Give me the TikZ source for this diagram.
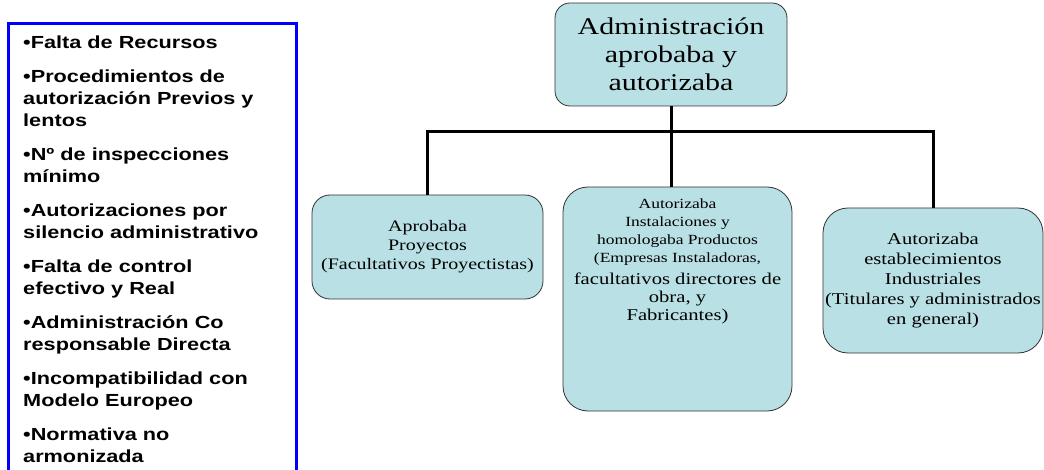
\documentclass[tikz,border=0pt]{standalone}
\usepackage{fontspec}
\setmainfont{Liberation Serif}[FakeStretch=1.25]
\newfontfamily\widesans{Liberation Sans}[FakeStretch=1.24]
\usetikzlibrary{positioning}

\definecolor{paleteal}{RGB}{185,224,228}
\newcommand{\bigline}{\fontsize{16.5}{19}\selectfont}

\begin{document}
\begin{tikzpicture}[
  x=1pt, y=-1pt,
  orgbox/.style={draw=black!80, line width=0.8pt, fill=paleteal, align=center, inner sep=2pt},
  causes/.style={align=left, inner sep=0pt, font=\widesans\bfseries\fontsize{17.5}{22}\selectfont},
  frame/.style={draw=blue, line width=3pt},
  link/.style={draw=black, line width=3pt}
]
\useasboundingbox (0,0) rectangle (1044,470);
\clip (0,0) rectangle (1044,470);

% list of problems
\draw[frame] (8,24) rectangle (296,500);
\node[causes, anchor=north west] (causas) at (23,36)
  {•Falta de Recursos\\[12pt]
   •Procedimientos de\\ autorización Previos y\\ lentos\\[12pt]
   •Nº de inspecciones\\ mínimo\\[12pt]
   •Autorizaciones por\\ silencio administrativo\\[12pt]
   •Falta de control\\ efectivo y Real\\[12pt]
   •Administración Co\\ responsable Directa\\[12pt]
   •Incompatibilidad con\\ Modelo Europeo\\[12pt]
   •Normativa no\\ armonizada};

% organisation chart
\node[orgbox, rounded corners=15pt, minimum width=232pt, minimum height=103pt,
  font=\fontsize{24}{28}\selectfont] (admin) at (671,54.5)
  {Administración\\ aprobaba y\\ autorizaba};

\node[orgbox, rounded corners=18pt, minimum width=231pt, minimum height=104pt,
  font=\fontsize{16}{19}\selectfont] (proy) at (427.5,247)
  {Aprobaba\\ Proyectos\\ (Facultativos Proyectistas)};

\node[orgbox, rounded corners=25pt, minimum width=229pt, minimum height=224pt,
  font=\fontsize{14}{18}\selectfont] (inst) at (677.5,299)
  {Autorizaba\\ Instalaciones y\\ homologaba Productos\\ (Empresas Instaladoras,\\[4pt]
   \bigline facultativos directores de\\ \bigline obra, y\\ \bigline Fabricantes)\\[60pt] \mbox{}};

\node[orgbox, rounded corners=25pt, minimum width=220pt, minimum height=145pt,
  font=\fontsize{16.5}{20}\selectfont] (indus) at (933,280.5)
  {Autorizaba\\ establecimientos\\ Industriales\\ (Titulares y administrados\\ en general)};

\coordinate (bus) at (671,132);
\draw[link] (admin.south) -- (admin.south |- inst.north);
\draw[link] (proy.north) |- (bus) -| (indus.north);

\end{tikzpicture}
\end{document}
